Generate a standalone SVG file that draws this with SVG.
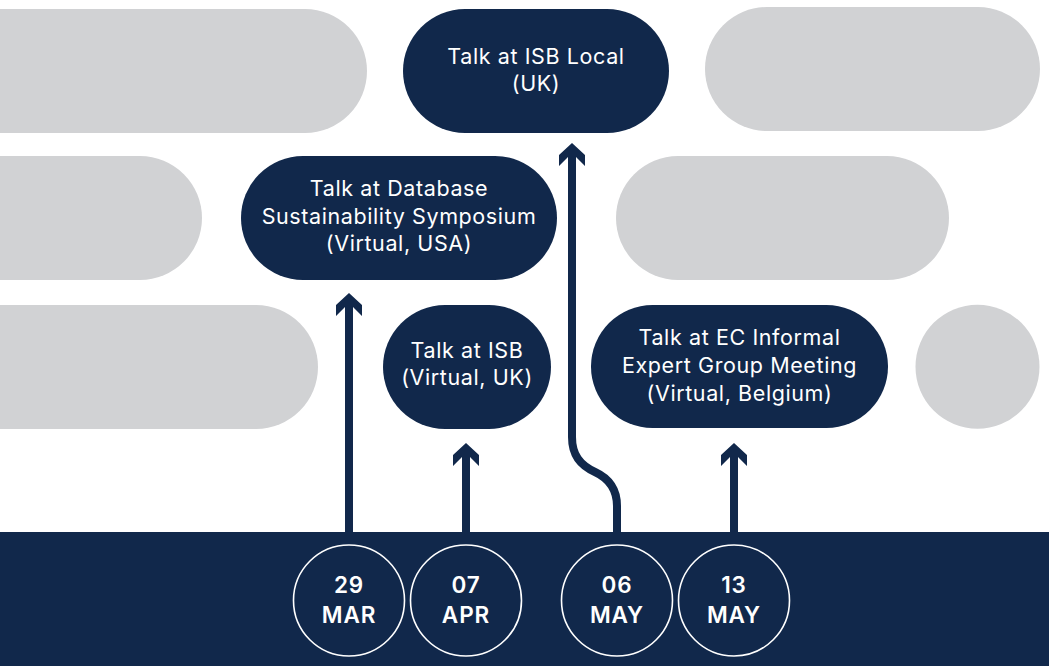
<svg xmlns="http://www.w3.org/2000/svg" width="1049" height="666" viewBox="0 0 1049 666">
<style>
.bg{fill:#d1d2d4}
.nd{fill:#11284b}
.t{fill:#ffffff;font-family:Inter,"Open Sans",sans-serif;font-size:21.5px;letter-spacing:0.6px;text-anchor:middle}
.d{fill:#ffffff;font-family:Inter,"Open Sans",sans-serif;font-size:22.5px;font-weight:600;letter-spacing:0.9px;text-anchor:middle}
.ring{fill:none;stroke:#ffffff;stroke-width:1.6}
.stem{fill:none;stroke:#11284b;stroke-width:8}
.ah{fill:#11284b}
</style>
<defs>
<path id="head" d="M0,0 L13,12 L13,23 L4,14 L-4,14 L-13,23 L-13,12 Z"/>
</defs>
<rect width="1049" height="666" fill="#ffffff"/>
<g id="background-shapes">
<rect class="bg" x="-120" y="9" width="487" height="124" rx="62"/>
<rect class="bg" x="-120" y="156" width="322" height="124" rx="62"/>
<rect class="bg" x="-120" y="305" width="438" height="124" rx="62"/>
<rect class="bg" x="705" y="7" width="335" height="124" rx="62"/>
<rect class="bg" x="616" y="156" width="333" height="124" rx="62"/>
<circle class="bg" cx="977.5" cy="366.7" r="62"/>
</g>
<g id="node-isb-local">
<rect class="nd" x="403" y="9" width="266" height="124" rx="62"/>
<text class="t" x="536" y="64">Talk at ISB Local</text>
<text class="t" x="536" y="91">(UK)</text>
</g>
<g id="node-db-symposium">
<rect class="nd" x="241" y="156" width="316" height="124" rx="62"/>
<text class="t" x="399" y="196">Talk at Database</text>
<text class="t" x="399" y="224">Sustainability Symposium</text>
<text class="t" x="399" y="251">(Virtual, USA)</text>
</g>
<g id="node-isb-virtual">
<rect class="nd" x="383" y="305" width="168" height="124" rx="62"/>
<text class="t" x="467" y="358">Talk at ISB</text>
<text class="t" x="467" y="385">(Virtual, UK)</text>
</g>
<g id="node-ec-meeting">
<rect class="nd" x="591" y="305" width="297" height="123" rx="61.5"/>
<text class="t" x="739.5" y="345">Talk at EC Informal</text>
<text class="t" x="739.5" y="373">Expert Group Meeting</text>
<text class="t" x="739.5" y="401">(Virtual, Belgium)</text>
</g>
<g id="connectors">
<path class="stem" d="M349,533 V300"/>
<use class="ah" href="#head" x="349" y="293"/>
<path class="stem" d="M466,533 V450"/>
<use class="ah" href="#head" x="466" y="443"/>
<path class="stem" d="M617,533 V506 C617,488 608,478 595,472 C580,465 572,455 572,437 V150"/>
<use class="ah" href="#head" x="572" y="143"/>
<path class="stem" d="M734,533 V450"/>
<use class="ah" href="#head" x="734" y="443"/>
</g>
<g id="timeline-bar">
<rect class="nd" x="0" y="532" width="1049" height="134"/>
</g>
<g id="date-29-mar">
<circle class="ring" cx="349" cy="600.5" r="55.5"/>
<text class="d" x="349" y="593">29</text>
<text class="d" x="349" y="623">MAR</text>
</g>
<g id="date-07-apr">
<circle class="ring" cx="466" cy="600.5" r="55.5"/>
<text class="d" x="466" y="593">07</text>
<text class="d" x="466" y="623">APR</text>
</g>
<g id="date-06-may">
<circle class="ring" cx="617" cy="600.5" r="55.5"/>
<text class="d" x="617" y="593">06</text>
<text class="d" x="617" y="623">MAY</text>
</g>
<g id="date-13-may">
<circle class="ring" cx="734" cy="600.5" r="55.5"/>
<text class="d" x="734" y="593">13</text>
<text class="d" x="734" y="623">MAY</text>
</g>
</svg>
